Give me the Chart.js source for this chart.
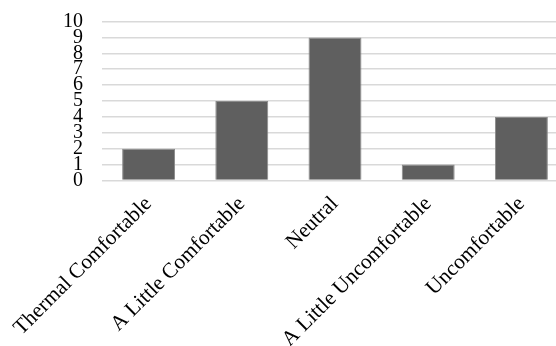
<!DOCTYPE html>
<html>
<head>
<meta charset="utf-8">
<script src="https://cdn.jsdelivr.net/npm/chart.js@4/dist/chart.umd.min.js"></script>
<style>
  html, body { margin: 0; padding: 0; background: #ffffff; overflow: hidden; }
  #wrap { position: relative; width: 580px; height: 346px; }
</style>
</head>
<body>
<div id="wrap"><canvas id="c" width="580" height="346"></canvas></div>
<script>
const categories = ["Thermal Comfortable", "A Little Comfortable", "Neutral", "A Little Uncomfortable", "Uncomfortable"];
const counts = [2, 5, 9, 1, 4];
const yTicks = [0, 1, 2, 3, 4, 5, 6, 7, 8, 9, 10];

const family = "'Liberation Serif', 'Times New Roman', serif";

new Chart(document.getElementById('c'), {
  type: 'bar',
  data: {
    labels: categories,
    datasets: [{
      data: counts,
      backgroundColor: '#5f5f5f',
      borderColor: '#8a8a8a',
      borderWidth: 1,
      barPercentage: 0.568,
      categoryPercentage: 1.0
    }]
  },
  options: {
    responsive: false,
    animation: false,
    layout: { padding: { top: 21.5, right: 12, left: 0, bottom: 0 } },
    plugins: { legend: { display: false }, tooltip: { enabled: false } },
    scales: {
      x: {
        grid: { display: false, drawTicks: false },
        border: { display: false },
        ticks: {
          color: '#000000',
          font: { family: family, size: 21.33 },
          minRotation: 45,
          maxRotation: 45,
          autoSkip: false,
          padding: 11
        },
        afterFit: (s) => { s.height = 165.5; s.paddingLeft = 0; s.paddingRight = 0; }
      },
      y: {
        min: 0,
        max: 10,
        afterBuildTicks: (s) => { s.ticks = yTicks.map(v => ({ value: v })); },
        grid: { color: '#d9d9d9', lineWidth: 1.5, drawTicks: true, tickLength: 19, tickColor: 'rgba(0,0,0,0)' },
        border: { display: false },
        ticks: {
          color: '#000000',
          font: { family: family, size: 20, lineHeight: 1 },
          autoSkip: false,
          padding: 0
        },
        afterFit: (s) => { s.width = 102; }
      }
    }
  }
});
</script>
</body>
</html>
